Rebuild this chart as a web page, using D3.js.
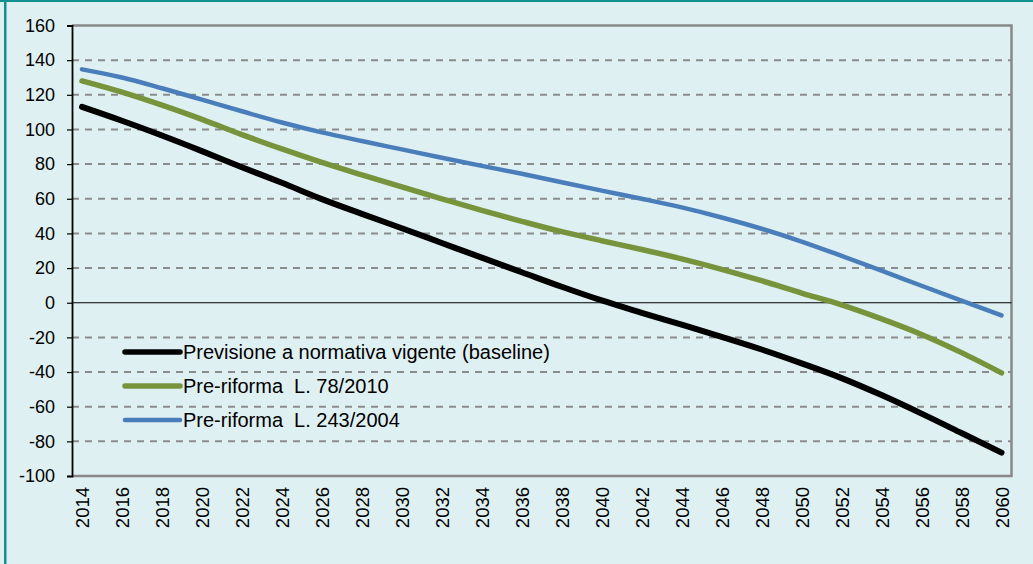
<!DOCTYPE html>
<html>
<head>
<meta charset="utf-8">
<script src="https://cdn.jsdelivr.net/npm/d3@7"></script>
<style>
  html, body { margin: 0; padding: 0; background: #dff0f2; }
  svg { display: block; font-family: "Liberation Sans", Arial, sans-serif; }
  .legend text { white-space: pre; }
</style>
</head>
<body>
<svg id="chart" width="1033" height="564"></svg>
<script>
// categories on the x axis (one band per year)
const years = [2014, 2015, 2016, 2017, 2018, 2019, 2020, 2021, 2022, 2023, 2024, 2025,
  2026, 2027, 2028, 2029, 2030, 2031, 2032, 2033, 2034, 2035, 2036, 2037, 2038, 2039,
  2040, 2041, 2042, 2043, 2044, 2045, 2046, 2047, 2048, 2049, 2050, 2051, 2052, 2053,
  2054, 2055, 2056, 2057, 2058, 2059, 2060];
// years (every labelled year)
const readYears = [2014, 2016, 2018, 2020, 2022, 2024, 2026, 2028, 2030, 2032, 2034, 2036,
  2038, 2040, 2042, 2044, 2046, 2048, 2050, 2052, 2054, 2056, 2058, 2060];
const baseline = [113, 105, 96.5, 87.5, 78.2, 69.2, 59.8, 51.3, 43, 34.5, 26, 17.6,
  9.2, 1.3, -5.8, -12.7, -19.7, -27, -35, -43.5, -53.3, -64, -75.2, -86.5];
const preL78 = [128, 121.5, 114, 105.8, 97, 88.8, 81, 73.8, 66.8, 60, 53.3, 47,
  41, 35.8, 30.7, 25.3, 19.3, 12.7, 5.6, -1.2, -9.3, -18.3, -28.8, -40.5];
const preL243 = [134.7, 130, 123.8, 117.2, 110.5, 104, 98.3, 93.3, 88.5, 83.7, 79, 74.4,
  69.5, 64.7, 60, 55, 49.2, 42.7, 35.3, 27, 18.5, 9.8, 1.2, -7.3];
const yTicks = [160, 140, 120, 100, 80, 60, 40, 20, 0, -20, -40, -60, -80, -100];
const xLabels = readYears;

const seriesNames = ['Previsione a normativa vigente (baseline)', 'Pre-riforma  L. 78/2010', 'Pre-riforma  L. 243/2004'];
const seriesColours = ['#000000', '#77933c', '#4a7ebb'];
const seriesWidths = [6, 5.5, 4.5];

const svg = d3.select('#chart');

// frame of the box
svg.append('rect').attr('width', 1033).attr('height', 564).attr('fill', '#dff0f2');
svg.append('rect').attr('x', 0).attr('y', 0).attr('width', 1033).attr('height', 2).attr('fill', '#12908f');
svg.append('rect').attr('x', 4).attr('y', 0).attr('width', 2.5).attr('height', 564).attr('fill', '#12908f');

const margin = {left: 72, top: 25.5, right: 1011.5, bottom: 476};
const width = margin.right - margin.left;
const height = margin.bottom - margin.top;

const chart = svg.append('g')
  .attr('transform', `translate(${margin.left}, ${margin.top})`);

const xScale = d3.scaleBand()
  .domain(years)
  .range([0, width]);

const yScale = d3.scaleLinear()
  .domain([-100, 160])
  .range([height, 0]);

const xc = y => xScale(y) + xScale.bandwidth() / 2;

// dashed grid lines
chart.append('g')
  .selectAll('line')
  .data(yTicks.filter(t => t !== 0 && t !== 160 && t !== -100))
  .enter()
  .append('line')
  .attr('x1', 0)
  .attr('x2', width)
  .attr('y1', d => yScale(d))
  .attr('y2', d => yScale(d))
  .attr('stroke', '#8c8c8c')
  .attr('stroke-width', 2)
  .attr('stroke-dasharray', '7,6');

// plot border top, right, bottom
chart.append('path')
  .attr('d', `M0,${yScale(160)}H${width}V${yScale(-100)}H0`)
  .attr('fill', 'none')
  .attr('stroke', '#888888')
  .attr('stroke-width', 2.5);

// zero line
chart.append('line')
  .attr('x1', 0)
  .attr('x2', width)
  .attr('y1', yScale(0))
  .attr('y2', yScale(0))
  .attr('stroke', '#000')
  .attr('stroke-width', 1.2);

// y axis
const yAxis = chart.append('g')
  .call(d3.axisLeft(yScale).tickValues(yTicks).tickSize(5).tickPadding(12).tickFormat(d => String(d)));
yAxis.select('.domain').attr('stroke', '#000').attr('stroke-width', 1.8);
yAxis.selectAll('.tick line').attr('stroke', '#000').attr('stroke-width', 1.2);
yAxis.selectAll('.tick text')
  .attr('font-size', 18)
  .attr('fill', '#000')
  .attr('font-family', '"Liberation Sans", Arial, sans-serif');

// x labels, rotated
chart.append('g')
  .selectAll('text')
  .data(xLabels)
  .enter()
  .append('text')
  .attr('transform', d => `translate(${xc(d) + 7}, ${height + 11}) rotate(-90)`)
  .attr('text-anchor', 'end')
  .attr('font-size', 18.5)
  .attr('fill', '#000')
  .text(d => d);

// series lines
const line = d3.line()
  .x((d, i) => xc(readYears[i]))
  .y(d => yScale(d))
  .curve(d3.curveMonotoneX);

[baseline, preL78, preL243].forEach((s, i) => {
  chart.append('path')
    .datum(s)
    .attr('d', line)
    .attr('fill', 'none')
    .attr('stroke', seriesColours[i])
    .attr('stroke-width', seriesWidths[i])
    .attr('stroke-linecap', 'round')
    .attr('stroke-linejoin', 'round');
});

// legend
const legend = svg.append('g').attr('class', 'legend');
seriesNames.forEach((name, i) => {
  const ly = 352 + i * 34;
  legend.append('line')
    .attr('x1', 125).attr('x2', 180)
    .attr('y1', ly).attr('y2', ly)
    .attr('stroke', seriesColours[i])
    .attr('stroke-width', i === 2 ? 4.5 : 5.5)
    .attr('stroke-linecap', 'round');
  legend.append('text')
    .attr('x', 183)
    .attr('y', ly + 7)
    .attr('font-size', 20)
    .attr('fill', '#000')
    .text(name);
});
</script>
</body>
</html>
